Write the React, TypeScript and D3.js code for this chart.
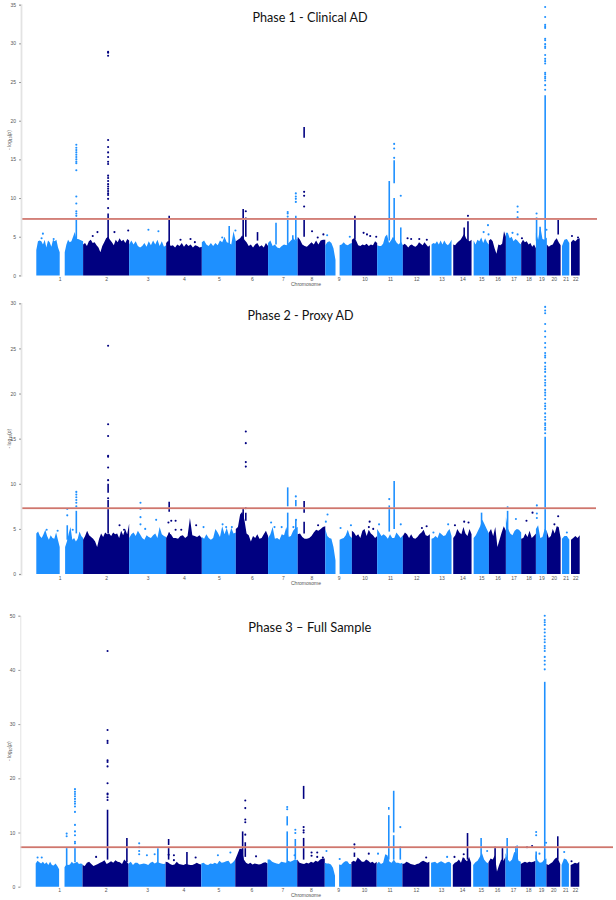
import React, { useEffect, useRef } from 'react';
import * as d3 from 'd3';

type Tops = (number | null)[][];
type Stem = [number, number, number, number];
type Dots = [number, number, number[]];

interface PanelProps {
  title: string;
  titleX: number;
  titleY: number;
  titleWidth: number;
  yMax: number;
  yTicks: number[];
  yTop: number;
  yBottom: number;
  xLeft: number;
  xRight: number;
  axisX: number;
  axisWidth: number;
  lineEnd: number;
  tops: Tops;
  stems: Stem[];
  dots: Dots[];
}

const LIGHT = '#1e90ff';
const DARK = '#000080';
const THRESHOLD = 7.3;

// lengths as they appear in the plot, Mb
const chrLengths = [248, 244, 196, 189, 180, 171, 157, 146, 141, 134, 136, 143, 115, 106, 92, 90, 81, 78, 58, 73, 46, 55];
// empty stretch at the start of the acrocentric chromosomes
const chrLead = [0, 0, 0, 0, 0, 0, 0, 0, 0, 0, 0, 0, 9, 9, 11, 0, 0, 0, 0, 0, 7, 9];
const chrStarts = chrLengths.map((_, i) => d3.sum(chrLengths.slice(0, i)));
const genomeLength = d3.sum(chrLengths);

// top of the solid mass along each chromosome
const p1Tops: Tops = [
  [3.3, 4.4, 4.5, 4.4, 4.0, 4.6, 3.6, 4.5, 4.3, 3.7, 4.6, 4.4, 4.6, 3.6, 3.0, null, null, 3.0, 4.0, 4.6, 4.3, 4.4, 5.0, 5.6, 4.7, 4.7, 4.6, 4.5, 4.4],
  [4.0, 4.2, 3.8, 4.4, 4.6, 4.2, 4.3, 3.9, 3.6, 3.0, 3.8, 4.3, 4.8, 5.0, 4.6, 4.3, 3.9, 4.6, 4.3, 4.8, 4.4, 4.6, 4.2, 4.7, 4.5],
  [4.0, 4.5, 4.0, 4.4, 3.8, 3.6, 3.8, 4.2, 3.7, 4.4, 3.9, 4.5, 4.0, 4.6, 3.8, 4.4, 3.7, 3.9],
  [4.2, 4.5, 3.8, 3.9, 3.6, 4.0, 3.8, 4.2, 3.7, 4.1, 3.8, 4.0, 3.6, 3.9, 3.8, 3.6, 3.7],
  [4.3, 4.5, 4.0, 3.8, 4.2, 3.8, 4.2, 3.9, 4.5, 4.3, 5.0, 4.3, 4.2, 4.0, 5.7, 4.4],
  [4.4, 4.6, 4.8, 5.2, 4.6, 4.3, 3.8, 4.0, 3.6, 4.0, 4.2, 3.7, 3.9, 3.6, 4.2, 3.8],
  [4.2, 4.5, 3.8, 4.0, 3.6, 3.5, 3.8, 4.0, 3.9, 4.2, 4.5, 4.8, 4.5, 4.8],
  [5.0, 4.6, 4.0, 3.8, 3.7, 4.0, 4.3, 4.0, 4.5, 4.0, 4.5, 4.6, 4.6],
  [3.9, 4.3, 4.4, 4.2, 3.5, 2.0, null, 3.9, 4.0, 4.3, 4.0, 3.9, 4.1, 4.2],
  [4.6, 4.8, 4.5, 3.9, 3.8, 4.0, 3.9, 4.1, 3.8, 4.0, 3.9, 4.4, 4.2],
  [3.9, 3.8, 3.8, 4.1, 5.0, 5.3, 4.2, 4.5, 5.0, 4.6, 4.2, 4.0, 4.4, 3.9],
  [3.9, 4.1, 3.9, 3.6, 3.9, 4.0, 3.8, 3.7, 3.9, 4.3, 4.1, 3.9, 4.3, 4.0, 3.7, 3.9],
  [4.0, 4.2, 4.1, 4.4, 4.0, 4.5, 4.0, 4.5, 4.1, 3.9, 4.2, 4.6],
  [4.0, 3.9, 4.2, 4.4, 4.6, 5.0, 5.4, 4.8, 4.5, 4.4, 4.6],
  [4.5, 4.0, 4.6, 4.4, 4.9, 4.2, 4.8, 4.3, 4.0],
  [4.5, 4.7, 4.4, 3.5, 2.8, 4.0, 3.9, 4.1, 5.7, 5.0],
  [5.5, 5.5, 4.8, 5.0, 4.4, 4.7, 4.5, 4.2, 4.0],
  [4.2, 4.6, 4.3, 4.4, 4.0, 4.2, 3.7, 4.0, 3.5],
  [5.5, 4.6, 6.3, 4.7, 4.6, 4.9],
  [4.0, 3.7, 3.9, 4.0, 4.5, 4.8, 4.3, 3.9],
  [3.8, 4.6, 4.7, 4.2],
  [4.3, 4.6, 4.4, 4.7, 4.8],
];

const p2Tops: Tops = [
  [4.5, 4.7, 4.2, 4.0, 4.4, 4.9, 4.2, 3.8, 4.3, 4.0, 3.9, 4.6, 3.8, 3.0, null, null, 3.0, 3.6, 4.5, 5.2, 3.8, 4.0, 3.6, 3.9, 4.7, 4.2, 4.0],
  [3.8, 4.2, 4.8, 4.3, 4.1, 3.9, 3.6, 3.0, 3.9, 4.5, 4.1, 4.6, 4.4, 4.5, 4.2, 4.6, 4.4, 4.5, 4.0, 4.8, 4.3, 5.0, 4.4, 5.6],
  [4.0, 4.4, 4.6, 4.2, 4.8, 4.4, 4.0, 3.8, 4.3, 4.1, 4.0, 4.3, 4.5, 4.0, 5.2, 4.4, 4.2, 4.1],
  [4.0, 4.5, 4.4, 4.0, 4.0, 3.9, 4.2, 4.3, 4.0, 4.2, 6.2, 4.3, 4.2, 4.1, 4.3, 4.0],
  [4.1, 3.9, 4.4, 4.0, 3.8, 4.0, 5.0, 4.6, 4.1, 5.3, 4.4, 5.1, 4.2, 5.1, 4.5, 4.6],
  [5.0, 5.2, 6.6, 6.9, 6.0, 4.5, 4.3, 3.6, 4.2, 4.0, 4.4, 3.9, 4.0, 4.4, 4.8, 4.2],
  [4.0, 4.4, 5.2, 3.9, 4.0, 3.8, 4.4, 4.3, 5.2, 4.1, 4.2, 4.8, 5.1, 5.2],
  [4.4, 4.5, 4.1, 3.9, 3.9, 4.0, 4.2, 4.6, 4.9, 4.8, 5.0, 5.2, 5.3],
  [5.0, 4.2, 4.0, 3.9, 3.0, 1.5, null, 3.8, 3.9, 4.0, 4.3, 4.9, 4.2, 4.0],
  [4.8, 4.6, 4.2, 4.4, 4.0, 4.8, 5.0, 4.2, 4.9, 4.5, 4.3, 4.0, 4.2],
  [5.0, 4.6, 4.2, 4.4, 4.2, 3.9, 4.4, 4.0, 4.0, 4.6, 4.3, 4.0, 4.3],
  [4.2, 4.6, 4.4, 4.0, 4.4, 4.0, 3.9, 4.1, 4.4, 4.6, 4.9, 4.3, 4.2, 4.4],
  [3.9, 4.0, 4.2, 4.0, 4.6, 4.4, 4.2, 4.3, 4.7, 5.0, 4.2],
  [4.0, 4.3, 5.0, 4.6, 4.4, 5.2, 4.5, 4.2, 5.0, 4.4],
  [4.0, 4.3, 4.8, 5.3, 6.0, 5.5, 5.0, 4.5],
  [4.6, 5.0, 4.2, 5.2, 3.0, 3.8, 4.6, 5.3, 4.8],
  [6.3, 5.0, 4.5, 4.3, 4.8, 5.0, 4.9, 4.6],
  [3.9, 4.0, 4.5, 4.1, 4.8, 4.0, 4.2, 4.5],
  [5.0, 5.4, 4.0, 4.1, 5.0, 4.8],
  [4.7, 4.0, 4.2, 5.0, 4.5, 5.3, 5.2, 4.0],
  [3.9, 4.2, 4.2, 3.8],
  [3.8, 4.0, 4.2, 4.0, 4.3],
];

const p3Tops: Tops = [
  [4.3, 4.8, 4.5, 4.3, 4.6, 4.2, 4.5, 4.0, 4.6, 4.0, 3.9, 4.3, 3.8, 3.2, null, null, 3.6, 4.1, 4.0, 4.1, 4.6, 4.3, 4.4, 4.6, 4.2, 4.3, 4.2],
  [4.0, 3.8, 4.4, 4.6, 4.2, 3.8, 4.0, 4.2, 4.4, 4.6, 4.9, 4.2, 4.4, 4.7, 4.4, 4.9, 4.6, 4.5, 4.2, 5.0, 4.6, 4.2],
  [4.3, 4.6, 4.0, 4.4, 4.4, 4.1, 4.2, 4.3, 4.2, 4.0, 4.4, 4.6, 4.3, 4.5, 4.4, 4.3, 4.2, 4.3],
  [4.6, 4.5, 4.2, 4.0, 4.1, 4.6, 4.2, 4.1, 4.0, 4.2, 4.1, 4.0, 4.0, 4.2, 4.4, 4.2, 4.1],
  [4.3, 4.4, 4.1, 4.0, 4.3, 4.2, 4.4, 4.2, 4.8, 4.4, 4.5, 4.7, 4.8, 4.2, 4.5, 5.0],
  [5.0, 6.0, 7.0, 7.0, 5.0, 4.4, 4.2, 4.4, 4.1, 4.3, 4.2, 4.1, 4.2, 4.4, 4.5, 4.3],
  [5.0, 5.0, 4.6, 4.4, 4.3, 4.2, 4.6, 4.5, 4.4, 4.8, 4.6, 4.8, 5.0, 4.9],
  [5.0, 4.4, 4.3, 4.2, 4.4, 4.3, 4.6, 4.4, 4.8, 4.6, 5.0, 5.2, 5.2],
  [4.4, 4.3, 4.3, 4.1, 3.5, 2.0, null, 4.1, 4.0, 4.4, 4.7, 4.7, 4.2, 4.2],
  [4.5, 4.8, 4.6, 5.4, 5.0, 4.6, 4.6, 5.0, 4.8, 4.4, 4.6, 4.3, 4.6],
  [4.2, 4.6, 4.2, 4.4, 6.0, 5.8, 4.6, 4.4, 5.0, 4.4, 4.4, 4.3, 4.4],
  [4.2, 4.3, 4.6, 4.4, 4.2, 4.1, 4.0, 4.2, 4.3, 4.6, 4.8, 4.6, 4.4, 4.6],
  [4.4, 4.5, 4.6, 4.3, 4.5, 4.7, 4.5, 4.3, 4.5, 4.6, 4.3],
  [4.0, 4.4, 4.6, 5.0, 4.4, 5.5, 5.0, 4.7, 5.5, 4.4],
  [4.0, 4.5, 4.8, 5.5, 6.2, 5.0, 4.5, 4.3],
  [4.5, 5.2, 5.0, 5.8, 2.8, 4.0, 5.0, 4.8, 5.5],
  [6.2, 5.0, 4.6, 5.0, 6.4, 6.2, 4.8, 4.6],
  [4.2, 4.4, 4.6, 4.4, 4.6, 4.5, 4.6, 4.8],
  [6.0, 4.8, 4.4, 4.5, 5.0, 5.2],
  [4.2, 4.0, 4.3, 4.5, 5.0, 5.4, 5.0, 4.2],
  [4.0, 5.2, 5.0, 4.2],
  [4.0, 4.2, 4.4, 4.3, 4.6],
];

// chromosome, position, from, to: runs of points too dense to tell apart
const p1Stems: Stem[] = [
  [1, 212, 4.5, 7.3], [2, 132.5, 4, 8], [4, 16, 4, 7.7], [5, 145, 4, 6.4], [6, 39, 4.5, 8.6], [6, 53, 5, 7.5],
  [6, 115, 4.5, 5.6], [7, 42, 4, 6.8], [7, 104, 4, 7.2], [7, 147, 4.5, 7.7], [7, 131, 4, 5.2], [8, 34, 5, 7.3],
  [8, 34, 17.8, 19.2], [10, 16, 4.6, 7.7], [11, 64, 4.5, 12.2], [11, 90, 4.5, 10], [11, 90, 11.9, 14.9],
  [11, 125, 4, 6.2], [14, 87, 4, 7], [14, 67, 4, 6.2], [19, 3.5, 4.5, 7.5], [19, 22, 4.5, 6.3], [19, 49, 4, 23.3], [20, 60, 5.3, 7.2],
];

const p1Dots: Dots[] = [
  [1, 212, [7.7, 8.0, 8.3, 9.3, 10.2, 13.6, 14.5, 14.7, 15, 15.3, 15.6, 15.9, 16.2, 16.5, 16.9]],
  [2, 132.5, [8.7, 9.9, 10.4, 10.6, 10.9, 11.2, 11.5, 11.8, 12.2, 12.6, 12.9, 14.4, 14.7, 15.3, 15.9, 16.6, 17.5, 28.4, 28.8, 28.9]],
  [6, 53, [8.3]],
  [7, 104, [7.6, 8, 8.2]],
  [7, 147, [9.5, 9.9, 10.2, 10.6]],
  [8, 34, [8.9, 10.3, 10.8]],
  [11, 90, [15.2, 16.4, 17]],
  [11, 125, [10.3]],
  [14, 87, [7.7]],
  [17, 62, [5.3, 7.5, 8.2, 8.9]],
  [18, 33, [7.3]],
  [19, 3.5, [8]],
  [19, 49, [24, 24.6, 25.2, 25.5, 25.7, 26, 26.2, 27.4, 27.7, 28, 28.5, 29.4, 29.6, 29.9, 30.4, 30.6, 32, 32.2, 32.4, 33.4, 34.7]],
  [1, 35, [5.4]], [1, 28, [4.8]], [1, 92, [4.7]], [2, 76, [5.6]], [2, 51, [5.1]], [2, 166, [5.6]], [2, 239, [5.8]],
  [3, 102, [5.9]], [3, 155, [5.7]], [4, 76, [4.6]], [4, 129, [4.7]], [4, 152, [4.3]], [5, 108, [4.9]], [5, 178, [5.8]],
  [8, 76, [5.7]], [8, 106, [4.9]], [8, 136, [5.3]], [9, 10, [5.2]], [9, 130, [5]], [10, 62, [5.5]], [10, 80, [5.3]],
  [10, 97, [5.1]], [10, 129, [5]], [12, 25, [4.8]], [12, 44, [4.7]], [12, 87, [4.7]], [12, 127, [4.6]], [15, 87, [6.5]],
  [15, 64, [5.6]], [15, 90, [5.3]], [17, 35, [5.5]], [18, 4, [4.8]], [19, 56, [5.9]], [22, 14, [5.1]], [22, 46, [4.9]],
];

const p2Stems: Stem[] = [
  [1, 212, 4.5, 7], [1, 164, 3.8, 5.4], [2, 132.5, 4.5, 8.2], [2, 132.5, 9, 10], [4, 16, 6.9, 8], [4, 16, 4, 4.6],
  [6, 39, 4.5, 7.2], [6, 53, 5.9, 6.8], [7, 104, 4, 6.8], [7, 104, 7.5, 9.6], [7, 147, 5, 6], [7, 147, 7.5, 8.2],
  [8, 34, 4.5, 5.8], [8, 34, 6.8, 8.1], [11, 64, 4.7, 7.6], [11, 90, 5, 10.3], [15, 53, 4.3, 6.8], [17, 9, 4.5, 7],
  [19, 49, 4, 15.2],
];

const p2Dots: Dots[] = [
  [1, 212, [7.5, 7.9, 8.2, 8.5, 8.8, 9.1]],
  [1, 164, [6.5, 7.2]],
  [2, 132.5, [8.4, 10.4, 11.8, 13, 13.1, 15.3, 16.6, 25.3]],
  [3, 60, [5.5, 6.3, 7.2, 7.9]],
  [6, 53, [7.3, 11.9, 12.4, 14.5, 15.8]],
  [7, 147, [8.6]],
  [11, 64, [8.3]],
  [17, 9, [7.4]],
  [19, 49, [15.6, 16, 16.2, 16.5, 16.7, 17.1, 17.4, 17.8, 18.3, 18.6, 18.9, 19.4, 19.8, 20.1, 20.4, 20.9, 21.2, 21.5, 21.9, 22.4, 22.7, 23, 23.4, 24, 24.2, 24.5, 25.1, 25.6, 26.3, 26.9, 27.7, 28.9, 29.2, 29.6]],
  [1, 55, [4.9]], [1, 113, [4.8]], [1, 193, [4.9]], [2, 193, [5.4]], [2, 217, [4.9]], [3, 143, [6]], [3, 85, [5]],
  [4, 12, [5.7]], [4, 27, [5.9]], [4, 50, [5.9, 4.9]], [4, 80, [4.9]], [4, 159, [5.4]], [5, 9, [5.2]], [5, 110, [5.5]],
  [5, 129, [5.2]], [5, 159, [5.2]], [7, 16, [5.7]], [7, 34, [5.2]], [7, 72, [5.2]], [7, 134, [5.2]], [7, 148, [6]],
  [8, 108, [5.4]], [9, 3, [5.8]], [9, 12, [6.6]], [9, 81, [5.1]], [9, 136, [5.4]], [10, 94, [5.8]], [10, 90, [5.2]],
  [10, 113, [5]], [11, 10, [5.5]], [11, 125, [5.5]], [12, 101, [5.1]], [12, 126, [5.3]], [13, 97, [5.5]], [13, 19, [4.6]],
  [14, 18, [5.4]], [14, 67, [5.8]], [14, 90, [5.7]], [17, 53, [6.1]], [18, 28, [5.9]], [18, 60, [6.8]],
  [19, 5, [6.2, 6.7, 7.6]], [20, 60, [6.4]], [20, 40, [5.5]], [21, 33, [4.6]],
];

const p3Stems: Stem[] = [
  [1, 164, 4, 7.2], [1, 208, 4.5, 7.2], [2, 132.5, 5, 14.2], [2, 235, 4.5, 9], [3, 155, 4, 7.1], [4, 16, 5, 7.3],
  [4, 16, 7.7, 8.8], [4, 113, 4, 6.4], [6, 39, 5, 10.2], [6, 53, 5.5, 8.2], [7, 104, 4.5, 10.2], [7, 104, 11.3, 13],
  [7, 147, 5, 8.8], [8, 34, 5, 9], [8, 34, 16.2, 18.6], [10, 16, 5.5, 6.3], [11, 64, 5, 13.2], [11, 64, 14.2, 14.7],
  [11, 90, 5, 9.5], [11, 90, 10, 17.7], [11, 125, 5, 7.5], [14, 87, 5, 9.9], [15, 53, 5, 9], [16, 35, 4, 7.4],
  [16, 74, 4.5, 7.2], [17, 9, 4.5, 9], [17, 62, 4.5, 7.6], [17, 55, 4.5, 7.5], [19, 3.5, 5, 6.5], [19, 49, 4, 37.8], [20, 60, 5, 9.3],
];

const p3Dots: Dots[] = [
  [1, 164, [9.3, 9.8]],
  [1, 208, [8, 8.3, 9.5, 10.2, 11.4, 13.8, 14.8, 15.3, 15.7, 16.2, 16.7, 17.1, 17.5, 18]],
  [2, 132.5, [16, 16.5, 17, 17.2, 19.1, 22.2, 23, 23.3, 26.5, 26.9, 28.9, 43.5]],
  [3, 56, [6, 6.6, 7.3, 8]],
  [4, 16, [5.9]],
  [4, 44, [4.9, 5.8]],
  [6, 53, [9.6, 11.9, 12.4, 14.5, 15.9]],
  [7, 104, [14.3, 14.7]],
  [7, 147, [9.9, 10.5]],
  [8, 34, [10, 10.4, 11]],
  [10, 16, [7.2, 7.8]],
  [11, 125, [11]],
  [18, 33, [7.3]],
  [19, 3.5, [9.5, 10.1]],
  [19, 49, [40.1, 41, 41.7, 42.4, 43.5, 44, 44.4, 45.1, 45.6, 46.2, 46.9, 47.5, 48.3, 48.8, 49.2, 50]],
  [2, 72, [5.5]], [3, 97, [5.8]], [3, 138, [6]], [1, 10, [5.4]], [1, 32, [5.4]], [5, 88, [5.8]], [5, 154, [6.3]],
  [6, 110, [5.6]], [4, 159, [5.4]], [7, 143, [5.8]], [8, 76, [5.7, 6.3]], [8, 106, [6.3, 5.5]], [8, 136, [5.4]],
  [9, 9, [6.6]], [9, 79, [5.1]], [10, 92, [6.1]], [11, 7, [6.1]], [12, 126, [5.4]], [13, 94, [5.5]], [14, 18, [5.5]],
  [14, 67, [6, 5.1]], [15, 85, [6.6]], [18, 60, [7.5]], [19, 21, [6.1]], [19, 56, [8.1]], [21, 21, [6.4]], [22, 14, [4.7]],
];

const chrColor = (chr: number) => (chr % 2 === 1 ? LIGHT : DARK);

const Panel = ({ title, titleX, titleY, titleWidth, yMax, yTicks, yTop, yBottom, xLeft, xRight, axisX, axisWidth, lineEnd, tops, stems, dots }: PanelProps) => {
  const ref = useRef<SVGGElement>(null);

  useEffect(() => {
    if (!ref.current) return;
    const g = d3.select(ref.current);
    g.selectAll('*').remove();

    const x = d3.scaleLinear().domain([0, genomeLength]).range([xLeft, xRight]);
    const y = d3.scaleLinear().domain([0, yMax]).range([yBottom, yTop]);
    const pos = (chr: number, mb: number) => x(chrStarts[chr - 1] + mb);

    const area = d3.area<[number, number | null]>()
      .defined(d => d[1] !== null)
      .x(d => d[0])
      .y0(y(0))
      .y1(d => y(d[1] as number));

    tops.forEach((values, i) => {
      const chr = i + 1;
      const lead = chrLead[i];
      const step = (chrLengths[i] - lead) / (values.length - 1);
      const pts: [number, number | null][] = values.map((v, k) => [pos(chr, lead + k * step), v]);
      g.append('path').attr('d', area(pts)).attr('fill', chrColor(chr));
    });

    g.append('g').selectAll('line').data(stems).join('line')
      .attr('x1', d => pos(d[0], d[1]))
      .attr('x2', d => pos(d[0], d[1]))
      .attr('y1', d => y(d[2]))
      .attr('y2', d => y(d[3]))
      .attr('stroke', d => chrColor(d[0]))
      .attr('stroke-width', 1.6);

    const flat = dots.flatMap(([chr, mb, vals]) => vals.map(v => ({ chr, mb, v })));
    g.append('g').selectAll('circle').data(flat).join('circle')
      .attr('cx', d => pos(d.chr, d.mb))
      .attr('cy', d => y(d.v))
      .attr('r', 1.05)
      .attr('fill', d => chrColor(d.chr));

    // threshold line has a pale halo in the source image
    g.append('line').attr('x1', axisX).attr('x2', lineEnd).attr('y1', y(THRESHOLD)).attr('y2', y(THRESHOLD))
      .attr('stroke', '#ecc6c2').attr('stroke-width', 2);
    g.append('line').attr('x1', axisX).attr('x2', lineEnd).attr('y1', y(THRESHOLD)).attr('y2', y(THRESHOLD))
      .attr('stroke', '#b93a2e').attr('stroke-width', 0.9);

    const yAxis = d3.axisLeft(y).tickValues(yTicks).tickSize(2).tickFormat(d3.format('d') as any);
    const yG = g.append('g').attr('transform', `translate(${axisX},0)`).call(yAxis);
    yG.select('.domain').attr('stroke', '#e3e3e3').attr('stroke-width', axisWidth);
    yG.selectAll('.tick line').attr('stroke', '#999');
    yG.selectAll('text').attr('font-size', 5).attr('font-family', 'Liberation Sans').attr('fill', '#555');

    const mids = chrLengths.map((len, i) => chrStarts[i] + chrLead[i] + (len - chrLead[i]) / 2);
    const xAxis = d3.axisBottom(x).tickValues(mids).tickSize(0)
      .tickFormat((_, i) => String(i + 1));
    const xG = g.append('g').attr('transform', `translate(0,${y(0)})`).call(xAxis);
    xG.select('.domain').remove();
    xG.selectAll('text').attr('font-size', 5).attr('font-family', 'Liberation Sans').attr('fill', '#555').attr('dy', '0.55em');

    g.append('text').attr('x', 306).attr('y', y(0) + 10.5).attr('text-anchor', 'middle')
      .attr('font-size', 5).attr('font-family', 'Liberation Sans').attr('fill', '#555').text('Chromosome');

    const yLabel = g.append('text')
      .attr('transform', `translate(11,${(yTop + yBottom) / 2}) rotate(-90)`)
      .attr('text-anchor', 'middle')
      .attr('font-size', 5).attr('font-family', 'Liberation Sans').attr('fill', '#555');
    yLabel.append('tspan').text('- log');
    yLabel.append('tspan').attr('font-size', 3.5).attr('dy', 1).text('10');
    yLabel.append('tspan').attr('dy', -1).text('(');
    yLabel.append('tspan').attr('font-style', 'italic').text('p');
    yLabel.append('tspan').text(')');

    g.append('text').attr('x', titleX).attr('y', titleY).attr('text-anchor', 'middle')
      .attr('font-size', 13.5).attr('font-family', 'Lato').attr('fill', '#111')
      .attr('textLength', titleWidth).attr('lengthAdjust', 'spacingAndGlyphs').text(title);
  }, [title, titleX, titleY, titleWidth, yMax, yTicks, yTop, yBottom, xLeft, xRight, axisX, axisWidth, lineEnd, tops, stems, dots]);

  return <g ref={ref} />;
};

export default function App() {
  return (
    <div style={{ position: 'absolute', left: 0, top: 0 }}>
      <svg width={616} height={900} style={{ display: 'block', background: '#fff' }}>
        <Panel title="Phase 1 - Clinical AD" titleX={310} titleY={21.5} titleWidth={115} yMax={35} yTicks={d3.range(0, 36, 5)}
          yTop={4.7} yBottom={275.4} xLeft={36.3} xRight={579.7} axisX={21} axisWidth={1.8} lineEnd={597} tops={p1Tops} stems={p1Stems} dots={p1Dots} />
        <Panel title="Phase 2 - Proxy AD" titleX={300.5} titleY={320} titleWidth={106} yMax={30} yTicks={d3.range(0, 31, 5)}
          yTop={303.3} yBottom={574} xLeft={36.3} xRight={579.7} axisX={21} axisWidth={1.8} lineEnd={596} tops={p2Tops} stems={p2Stems} dots={p2Dots} />
        <Panel title="Phase 3 – Full Sample" titleX={309.8} titleY={632} titleWidth={123} yMax={50} yTicks={d3.range(0, 51, 10)}
          yTop={615.7} yBottom={886.7} xLeft={35.7} xRight={579.3} axisX={20.3} axisWidth={1} lineEnd={613} tops={p3Tops} stems={p3Stems} dots={p3Dots} />
      </svg>
    </div>
  );
}
